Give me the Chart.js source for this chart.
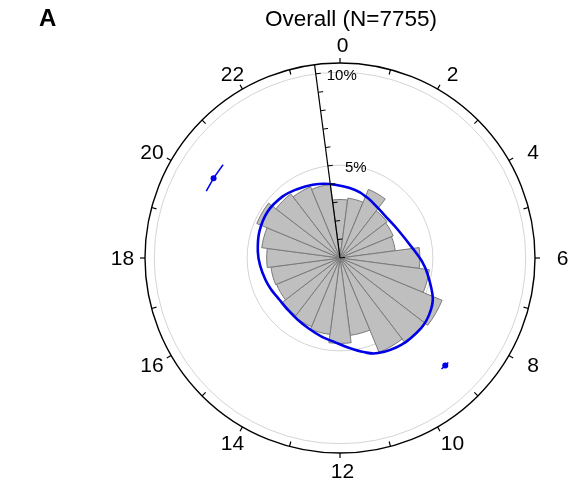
<!DOCTYPE html>
<html>
<head>
<meta charset="utf-8">
<script src="https://cdn.jsdelivr.net/npm/chart.js@4/dist/chart.umd.min.js"></script>
<style>
  html, body { margin: 0; padding: 0; background: #fff; }
  #wrap { position: relative; width: 568px; height: 485px; }
  #panel { position: absolute; left: 39px; top: 5px; font: bold 24px "Liberation Sans", Arial, sans-serif; line-height: 26px; color: #000; }
  #title { position: absolute; left: 151px; width: 400px; top: 6px; text-align: center; font: 22.5px "Liberation Sans", Arial, sans-serif; line-height: 26px; color: #000; }
</style>
</head>
<body>
<div id="wrap">
  <canvas id="c" width="568" height="485"></canvas>
  <div id="panel">A</div>
  <div id="title">Overall (N=7755)</div>
</div>
<script>
// ---- data ----
const hourBins = [0,1,2,3,4,5,6,7,8,9,10,11,12,13,14,15,16,17,18,19,20,21,22,23];
const binPercent = [3.15,3.25,4.0,3.2,3.1,3.0,4.3,4.85,5.95,5.8,5.5,4.2,4.6,4.15,4.0,3.9,3.7,3.75,3.95,4.25,4.85,4.35,4.15,4.0];

// fitted curve (blue), angle in degrees clockwise from 0 h, radius in %
const fitAngleDeg = [12.0,24.9,37.1,50.6,64.8,80.7,92.4,101.2,113.3,122.0,130.8,144.8,158.3,165.9,174.0,183.2,193.5,203.6,214.4,224.8,235.4,245.7,253.5,264.6,274.6,288.3,302.8,317.1,328.0,339.6,352.0];
const fitPercent  = [3.76,3.56,3.38,3.33,3.48,3.88,4.42,4.83,5.44,5.68,5.77,5.72,5.51,5.22,4.87,4.55,4.34,4.16,4.03,3.96,3.96,4.08,4.18,4.32,4.44,4.57,4.63,4.53,4.37,4.21,4.02];

// peak markers with confidence arcs (hours), radius in %
const peakHour   = [20.15, 9.04];
const peakLoHour = [19.77, 8.93];
const peakHiHour = [20.57, 9.17];
const peakRadius = [8.05, 8.1];

// axis labels
const hourTickValues = [0,1,2,3,4,5,6,7,8,9,10,11,12,13,14,15,16,17,18,19,20,21,22,23];
const hourLabelValues = [0,2,4,6,8,10,12,14,16,18,20,22];
const hourLabels = ['0','2','4','6','8','10','12','14','16','18','20','22'];
const gridPercents = [5, 10];
const radialTickPercents = [0,1,2,3,4,5,6,7,8,9,10];
const radialLabelValues = [5, 10];
const radialLabels = ['5%', '10%'];
const radialMax = 10.5;
const radialAxisHour = 23.5;

const FONT = '"Liberation Sans", Arial, sans-serif';

const extras = {
  id: 'roseExtras',
  afterDatasetsDraw(chart) {
    const s = chart.scales.r;
    const ctx = chart.ctx;
    const cx = s.xCenter, cy = s.yCenter;
    const ang = h => h / 24 * 2 * Math.PI;
    const pt = (h, d) => [cx + d * Math.sin(ang(h)), cy - d * Math.cos(ang(h))];
    const R = s.getDistanceFromCenterForValue(radialMax);
    ctx.save();

    // fitted curve (closed smooth curve through the read points)
    const P = fitAngleDeg.map((a, i) => pt(a / 15, s.getDistanceFromCenterForValue(fitPercent[i])));
    const n = P.length;
    ctx.beginPath();
    ctx.moveTo(P[0][0], P[0][1]);
    for (let i = 0; i < n; i++) {
      const p0 = P[(i - 1 + n) % n], p1 = P[i], p2 = P[(i + 1) % n], p3 = P[(i + 2) % n];
      const c1 = [p1[0] + (p2[0] - p0[0]) / 6, p1[1] + (p2[1] - p0[1]) / 6];
      const c2 = [p2[0] - (p3[0] - p1[0]) / 6, p2[1] - (p3[1] - p1[1]) / 6];
      ctx.bezierCurveTo(c1[0], c1[1], c2[0], c2[1], p2[0], p2[1]);
    }
    ctx.closePath();
    ctx.strokeStyle = '#0000e6';
    ctx.lineWidth = 2.6;
    ctx.lineJoin = 'round';
    ctx.stroke();

    // peak markers
    ctx.strokeStyle = '#0000e6';
    ctx.fillStyle = '#0000e6';
    peakHour.forEach((h, i) => {
      const d = s.getDistanceFromCenterForValue(peakRadius[i]);
      ctx.beginPath();
      ctx.lineWidth = 1.5;
      ctx.arc(cx, cy, d, ang(peakLoHour[i]) - Math.PI / 2, ang(peakHiHour[i]) - Math.PI / 2);
      ctx.stroke();
      const p = pt(h, d);
      ctx.beginPath();
      ctx.arc(p[0], p[1], 3, 0, 2 * Math.PI);
      ctx.fill();
    });

    // radial axis line with % ticks
    ctx.strokeStyle = '#000';
    ctx.lineWidth = 1.2;
    const top = pt(radialAxisHour, R);
    ctx.beginPath();
    ctx.moveTo(cx, cy);
    ctx.lineTo(top[0], top[1]);
    ctx.stroke();
    const a = ang(radialAxisHour);
    const px = Math.cos(a), py = Math.sin(a);
    ctx.lineWidth = 1;
    radialTickPercents.forEach(v => {
      const p = pt(radialAxisHour, s.getDistanceFromCenterForValue(v));
      ctx.beginPath();
      ctx.moveTo(p[0], p[1]);
      ctx.lineTo(p[0] + 5 * px, p[1] + 5 * py);
      ctx.stroke();
    });
    ctx.fillStyle = '#000';
    ctx.font = '15px ' + FONT;
    ctx.textAlign = 'left';
    ctx.textBaseline = 'middle';
    radialLabelValues.forEach((v, i) => {
      const p = pt(radialAxisHour, s.getDistanceFromCenterForValue(v));
      const gap = v === 10 ? 11 : 17;
      ctx.fillText(radialLabels[i], p[0] + gap, p[1] + 1.5);
    });

    // hour ticks on the outer circle
    ctx.lineWidth = 1.2;
    hourTickValues.forEach(h => {
      const inner = h % 2 === 0 ? R : R - 5;
      const outer = h % 2 === 0 ? R + 5 : R;
      const p1 = pt(h, inner), p2 = pt(h, outer);
      ctx.beginPath();
      ctx.moveTo(p1[0], p1[1]);
      ctx.lineTo(p2[0], p2[1]);
      ctx.stroke();
    });

    // hour labels
    ctx.font = '21px ' + FONT;
    ctx.textAlign = 'center';
    ctx.textBaseline = 'middle';
    const rx = R + 25, ry = R + 18;
    hourLabelValues.forEach((h, i) => {
      const t = ang(h);
      ctx.fillText(hourLabels[i], cx + 2.5 + rx * Math.sin(t), cy + 1.5 - ry * Math.cos(t));
    });
    ctx.restore();
  }
};

new Chart(document.getElementById('c'), {
  type: 'polarArea',
  data: {
    labels: hourBins.map(String),
    datasets: [{
      data: binPercent,
      backgroundColor: '#bfbfbf',
      borderColor: '#7a7a7a',
      borderWidth: 1
    }]
  },
  options: {
    responsive: false,
    devicePixelRatio: 1,
    animation: false,
    startAngle: -7.5,
    layout: { padding: { left: 145, right: 33, top: 63, bottom: 31 } },
    plugins: {
      legend: { display: false },
      tooltip: { enabled: false },
      title: { display: false }
    },
    events: [],
    scales: {
      r: {
        min: 0,
        max: radialMax,
        startAngle: -7.5,
        ticks: { display: false, stepSize: 5 },
        afterBuildTicks: sc => { sc.ticks = [0, ...gridPercents, radialMax].map(v => ({ value: v })); },
        grid: {
          circular: true,
          color: c => (c.tick && c.tick.value === radialMax) ? '#000' : '#d4d4d4',
          lineWidth: c => (c.tick && c.tick.value === radialMax) ? 1.4 : 1
        },
        angleLines: { display: false },
        pointLabels: { display: false }
      }
    }
  },
  plugins: [extras]
});
</script>
</body>
</html>
